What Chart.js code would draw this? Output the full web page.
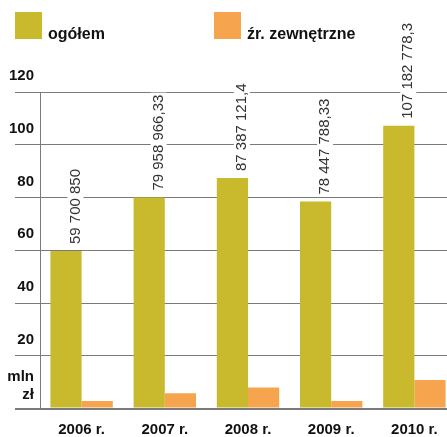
<!DOCTYPE html>
<html>
<head>
<meta charset="utf-8">
<script src="https://cdn.jsdelivr.net/npm/chart.js@4/dist/chart.umd.min.js"></script>
<style>
  html, body { margin: 0; padding: 0; background: #fff; overflow: hidden; }
  #wrap { position: relative; width: 456px; height: 437px; }
</style>
</head>
<body>
<div id="wrap"><canvas id="chart"></canvas></div>
<script>
const years = ['2006 r.', '2007 r.', '2008 r.', '2009 r.', '2010 r.'];
const total = [59.70085, 79.95896633, 87.3871214, 78.44778833, 107.1827783];
const external = [2.8, 5.8, 8.0, 2.8, 10.8];
const totalLabels = ['59 700 850', '79 958 966,33', '87 387 121,4', '78 447 788,33', '107 182 778,3'];
const yTicks = [0, 20, 40, 60, 80, 100, 120];
const unitLabel = ['mln', 'zł'];
const seriesNames = ['ogółem', 'źr. zewnętrzne'];

const OLIVE = '#c8b92d';
const ORANGE = '#f7a44f';
const FONT = '"Liberation Sans", Arial, Helvetica, sans-serif';

const legendAndLabels = {
  id: 'legendAndLabels',
  afterDraw(chart) {
    const ctx = chart.ctx;
    ctx.save();
    // legend: squares with bold label to the right, baseline at the square bottom
    const legendX = [15, 214];
    chart.data.datasets.forEach((ds, i) => {
      ctx.fillStyle = ds.backgroundColor;
      ctx.fillRect(legendX[i], 12, 27, 27);
      ctx.fillStyle = '#111';
      ctx.font = 'bold 16px ' + FONT;
      ctx.textAlign = 'left';
      ctx.textBaseline = 'alphabetic';
      ctx.fillText(ds.label, legendX[i] + 33, 39);
    });

    // unit label in place of the zero tick
    ctx.font = 'bold 15px ' + FONT;
    ctx.textAlign = 'right';
    ctx.fillStyle = '#111';
    ctx.fillText(unitLabel[0], 34, 381);
    ctx.fillText(unitLabel[1], 34, 399);

    // rotated value labels above the "ogółem" bars
    const meta = chart.getDatasetMeta(0);
    ctx.font = '15px ' + FONT;
    meta.data.forEach((bar, i) => {
      const txt = totalLabels[i];
      const w = ctx.measureText(txt).width;
      ctx.save();
      ctx.translate(bar.x + 9.5, bar.y - 7);
      ctx.rotate(-Math.PI / 2);
      ctx.fillStyle = '#fff';
      ctx.fillRect(-2, -8, w + 4, 16);
      ctx.fillStyle = '#333';
      ctx.textAlign = 'left';
      ctx.textBaseline = 'middle';
      ctx.fillText(txt, 0, 0);
      ctx.restore();
    });
    ctx.restore();
  }
};

new Chart(document.getElementById('chart'), {
  type: 'bar',
  data: {
    labels: years,
    datasets: [
      { label: seriesNames[0], data: total, backgroundColor: OLIVE },
      { label: seriesNames[1], data: external, backgroundColor: ORANGE }
    ]
  },
  options: {
    responsive: true,
    maintainAspectRatio: false,
    animation: false,
    events: [],
    categoryPercentage: 0.75,
    barPercentage: 1,
    layout: { padding: { top: 92, right: 0, left: 0, bottom: 0 } },
    plugins: {
      legend: { display: false },
      tooltip: { enabled: false }
    },
    scales: {
      x: {
        grid: { display: false },
        border: { display: false },
        ticks: {
          color: '#111',
          font: { family: FONT, size: 15, weight: 'bold' },
          padding: 4,
          maxRotation: 0
        },
        afterFit(scale) { scale.height = 28.5; }
      },
      y: {
        min: 0,
        max: 120,
        afterBuildTicks(scale) { scale.ticks = yTicks.map(v => ({ value: v })); },
        grid: {
          color: '#7a7a7a',
          lineWidth: ctx => (ctx.tick && ctx.tick.value === 0 ? 2 : 1),
          tickLength: 25,
          drawTicks: true
        },
        border: { display: true, color: '#7a7a7a', width: 1 },
        ticks: {
          color: '#111',
          font: { family: FONT, size: 15, weight: 'bold' },
          padding: -19,
          labelOffset: -16,
          callback: v => (v === 0 ? '' : String(v))
        },
        afterFit(scale) { scale.width = 40; }
      }
    }
  },
  plugins: [legendAndLabels]
});
</script>
</body>
</html>
